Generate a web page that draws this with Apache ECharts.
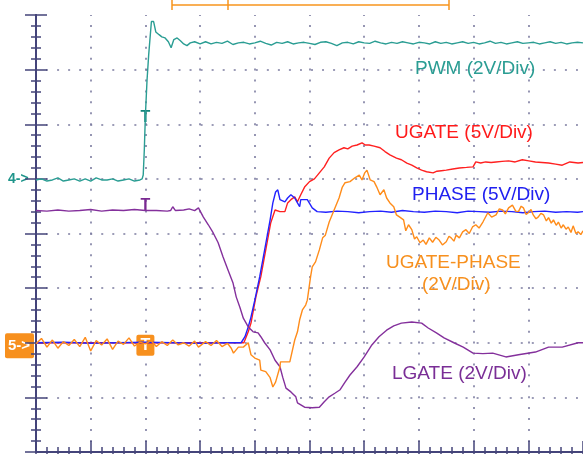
<!DOCTYPE html>
<html>
<head>
<meta charset="utf-8">
<script src="https://cdn.jsdelivr.net/npm/echarts@6/dist/echarts.min.js"></script>
<style>
  html, body { margin: 0; padding: 0; background: #fff; }
  #scope { width: 583px; height: 454px; }
</style>
</head>
<body>
<div id="scope"></div>
<script>
// all traces as [time (div), level (div)]
const pwm = [
  [0,4.98],[0.1,5.00],[0.2,4.96],[0.3,4.98],[0.4,5.02],[0.5,4.96],[0.6,4.98],[0.7,5.00],[0.8,4.96],[0.9,5.00],
  [1.0,4.96],[1.1,5.02],[1.2,4.98],[1.3,4.98],[1.4,5.00],[1.5,4.96],[1.6,4.98],[1.7,5.00],[1.8,4.96],[1.9,4.98],
  [1.94,5.00],[1.96,5.07],[1.98,5.53],[2.0,6.17],[2.03,6.81],[2.06,7.27],[2.09,7.64],[2.11,7.88],[2.15,7.88],
  [2.19,7.69],[2.25,7.64],[2.3,7.60],[2.36,7.58],[2.42,7.51],[2.47,7.40],[2.52,7.55],[2.58,7.58],[2.64,7.53],
  [2.7,7.47],[2.76,7.44],[2.82,7.49],[2.9,7.51],[3.0,7.47],[3.1,7.51],[3.2,7.47],[3.3,7.50],[3.4,7.48],[3.5,7.52],
  [3.6,7.46],[3.7,7.49],[3.8,7.50],[3.9,7.47],[4.0,7.49],[4.1,7.52],[4.2,7.48],[4.3,7.45],[4.4,7.50],[4.5,7.48],
  [4.6,7.51],[4.7,7.47],[4.8,7.49],[4.9,7.50],[5.0,7.48],[5.1,7.46],[5.2,7.50],[5.3,7.51],[5.4,7.48],[5.5,7.44],
  [5.6,7.49],[5.7,7.50],[5.8,7.47],[5.9,7.51],[6.0,7.49],[6.1,7.48],[6.2,7.52],[6.3,7.49],[6.4,7.47],[6.5,7.50],
  [6.6,7.48],[6.7,7.51],[6.8,7.49],[6.9,7.47],[7.0,7.50],[7.1,7.49],[7.2,7.47],[7.3,7.51],[7.4,7.48],[7.5,7.50],
  [7.6,7.47],[7.7,7.49],[7.8,7.51],[7.9,7.48],[8.0,7.50],[8.1,7.47],[8.2,7.49],[8.3,7.52],[8.4,7.48],[8.5,7.50],
  [8.6,7.47],[8.7,7.49],[8.8,7.51],[8.9,7.48],[9.0,7.49],[9.1,7.50],[9.2,7.47],[9.3,7.49],[9.4,7.51],[9.5,7.48],
  [9.6,7.50],[9.7,7.47],[9.8,7.49],[9.9,7.50],[10,7.49]
];

const ugate = [
  [0,2.00],[1,2.00],[2,2.00],[3,2.00],[3.8,2.00],[3.88,2.20],[3.93,2.36],[4.02,2.84],[4.11,3.21],[4.2,3.70],
  [4.29,4.19],[4.37,4.43],[4.46,4.40],[4.55,4.40],[4.6,4.56],[4.66,4.62],[4.73,4.67],[4.78,4.58],[4.84,4.71],
  [4.91,4.85],[5.0,4.95],[5.09,5.00],[5.18,5.11],[5.27,5.22],[5.36,5.38],[5.45,5.48],[5.54,5.53],[5.63,5.57],
  [5.7,5.55],[5.78,5.60],[5.87,5.62],[5.96,5.66],[6.02,5.62],[6.09,5.62],[6.18,5.60],[6.29,5.57],[6.38,5.50],
  [6.47,5.44],[6.59,5.38],[6.68,5.35],[6.78,5.29],[6.87,5.25],[6.96,5.20],[7.05,5.16],[7.14,5.13],[7.26,5.11],
  [7.33,5.14],[7.41,5.15],[7.5,5.16],[7.62,5.18],[7.74,5.20],[7.87,5.21],[7.99,5.22],[8.04,5.31],[8.13,5.29],
  [8.22,5.31],[8.32,5.30],[8.41,5.31],[8.52,5.32],[8.64,5.33],[8.76,5.31],[8.89,5.35],[9.01,5.33],[9.13,5.31],
  [9.25,5.30],[9.37,5.29],[9.5,5.27],[9.62,5.25],[9.76,5.31],[9.91,5.29],[10,5.30]
];

const phase = [
  [0,2.00],[0.5,2.01],[1.0,1.99],[1.5,2.00],[2.0,2.01],[2.5,2.00],[3.0,1.99],[3.5,2.00],[3.75,2.00],[3.82,2.11],
  [3.88,2.29],[3.93,2.47],[4.0,2.78],[4.09,3.21],[4.18,3.70],[4.28,4.25],[4.33,4.56],[4.38,4.76],[4.42,4.80],
  [4.46,4.62],[4.55,4.58],[4.6,4.65],[4.66,4.71],[4.73,4.65],[4.78,4.56],[4.82,4.49],[4.84,4.62],[4.96,4.62],
  [5.05,4.47],[5.14,4.40],[5.3,4.39],[5.5,4.41],[5.7,4.40],[5.9,4.38],[6.1,4.40],[6.3,4.41],[6.5,4.39],
  [6.7,4.42],[6.9,4.40],[7.1,4.39],[7.3,4.41],[7.5,4.40],[7.7,4.38],[7.9,4.41],[8.1,4.40],[8.3,4.39],
  [8.5,4.41],[8.7,4.40],[8.9,4.38],[9.1,4.40],[9.3,4.41],[9.5,4.39],[9.7,4.40],[9.9,4.39],[10,4.40]
];

const ugatePhase = [
  [0,1.98],[0.1,2.08],[0.2,1.92],[0.3,2.05],[0.4,1.90],[0.5,2.02],[0.6,1.95],[0.7,2.06],[0.8,1.93],[0.9,2.10],
  [1.0,1.85],[1.1,2.04],[1.2,1.96],[1.3,2.07],[1.4,1.88],[1.5,2.03],[1.6,1.97],[1.7,2.09],[1.8,1.94],[1.9,2.01],
  [2.0,1.98],[2.1,2.04],[2.2,1.93],[2.3,2.02],[2.4,1.95],[2.5,2.05],[2.6,1.96],[2.7,2.00],[2.8,1.94],[2.9,2.03],
  [2.97,1.92],[3.1,2.02],[3.2,1.95],[3.3,2.04],[3.4,1.93],[3.5,1.99],[3.57,1.90],[3.61,1.81],[3.7,1.92],
  [3.79,1.92],[3.88,2.00],[3.93,1.78],[4.0,1.72],[4.09,1.68],[4.11,1.50],[4.2,1.47],[4.28,1.36],[4.33,1.19],
  [4.38,1.28],[4.46,1.56],[4.47,1.65],[4.64,1.65],[4.66,1.63],[4.73,2.05],[4.78,2.20],[4.82,2.42],[4.87,2.60],
  [4.93,2.69],[4.96,2.78],[5.02,3.21],[5.05,3.39],[5.11,3.48],[5.18,3.70],[5.24,3.92],[5.29,3.97],[5.36,4.21],
  [5.45,4.43],[5.54,4.65],[5.6,4.85],[5.65,4.93],[5.74,4.95],[5.83,5.02],[5.91,5.07],[5.96,4.98],[6.01,5.11],
  [6.05,5.16],[6.11,4.98],[6.18,4.95],[6.23,4.85],[6.29,4.71],[6.36,4.80],[6.41,4.65],[6.47,4.56],[6.54,4.49],
  [6.59,4.34],[6.65,4.30],[6.72,4.25],[6.76,4.05],[6.81,4.16],[6.87,4.07],[6.92,3.90],[6.96,3.94],[7.02,3.83],
  [7.08,3.88],[7.13,3.80],[7.19,3.92],[7.25,3.84],[7.31,3.93],[7.37,3.88],[7.43,3.79],[7.5,3.85],[7.55,3.95],
  [7.59,3.92],[7.64,3.86],[7.68,3.97],[7.74,3.92],[7.8,4.03],[7.86,4.07],[7.92,4.00],[7.98,4.12],[8.04,4.16],
  [8.1,4.10],[8.17,4.21],[8.26,4.38],[8.33,4.30],[8.41,4.34],[8.47,4.45],[8.53,4.43],[8.58,4.36],[8.64,4.47],
  [8.71,4.52],[8.77,4.41],[8.82,4.40],[8.87,4.50],[8.91,4.47],[8.96,4.35],[9.0,4.38],[9.05,4.44],[9.09,4.34],
  [9.14,4.27],[9.18,4.30],[9.23,4.37],[9.28,4.34],[9.33,4.23],[9.37,4.29],[9.42,4.19],[9.46,4.25],[9.51,4.15],
  [9.55,4.21],[9.6,4.10],[9.64,4.16],[9.69,4.08],[9.73,4.12],[9.78,4.02],[9.82,4.14],[9.87,4.00],[9.91,4.03],
  [9.96,3.98],[10,4.05]
];

const lgate = [
  [0,4.42],[0.2,4.41],[0.4,4.43],[0.6,4.41],[0.8,4.42],[1.0,4.44],[1.2,4.41],[1.4,4.43],[1.6,4.42],[1.8,4.44],
  [2.0,4.42],[2.2,4.42],[2.4,4.41],[2.46,4.42],[2.5,4.49],[2.55,4.42],[2.7,4.43],[2.8,4.45],[2.9,4.42],
  [2.97,4.47],[3.06,4.30],[3.15,4.16],[3.24,4.01],[3.33,3.83],[3.42,3.57],[3.51,3.33],[3.6,3.10],[3.66,2.84],
  [3.73,2.64],[3.79,2.45],[3.88,2.29],[3.97,2.20],[4.06,2.18],[4.11,2.11],[4.18,2.00],[4.28,1.87],[4.37,1.68],
  [4.46,1.56],[4.51,1.37],[4.57,1.17],[4.66,1.10],[4.75,1.01],[4.78,0.90],[4.91,0.82],[5.05,0.81],[5.18,0.82],
  [5.27,0.92],[5.36,1.01],[5.47,1.08],[5.56,1.14],[5.65,1.28],[5.74,1.41],[5.87,1.56],[6.0,1.74],[6.14,1.96],
  [6.27,2.11],[6.41,2.23],[6.54,2.31],[6.68,2.36],[6.87,2.38],[7.05,2.36],[7.17,2.27],[7.32,2.18],[7.46,2.09],
  [7.64,2.00],[7.81,1.92],[7.99,1.81],[8.17,1.80],[8.35,1.81],[8.59,1.74],[8.82,1.78],[9.13,1.83],[9.37,1.92],
  [9.62,1.92],[9.91,2.00],[10,2.00]
];

// channel ground markers and trigger point
const ch4Level = 5.0;
const ch5Level = 2.0;
const trigTime = 2.0;

const frameColor = '#44447a';
const dotColor = '#7c7ca0';

const chart = echarts.init(document.getElementById('scope'));

// one axis per side for the big ticks, one more per side for the small ones (5 per div)
const tickAxis = (pos, max, step, len, extra) => Object.assign({
  type: 'value',
  position: pos,
  min: 0,
  max: max,
  interval: step,
  axisLine: { show: step === 1, lineStyle: { color: frameColor, width: 2 } },
  axisTick: { show: true, inside: true, length: len, lineStyle: { color: frameColor, width: 1.5 } },
  axisLabel: { show: false },
  splitLine: { show: false }
}, extra);

const line = (name, data, color) => ({
  name: name,
  type: 'line',
  data: data,
  showSymbol: false,
  xAxisIndex: 0,
  yAxisIndex: 0,
  lineStyle: { color: color, width: 1.4 },
  animation: false
});

const labelFont = 'Liberation Sans, Arial, sans-serif';
const txt = (s, x, y, color) => ({
  type: 'text', x: x, y: y,
  style: { text: s, fill: color, font: '19px ' + labelFont, verticalAlign: 'middle' }
});

chart.setOption({
  animation: false,
  grid: { left: 36, top: 15, width: 552, height: 437 },
  xAxis: [
    tickAxis('bottom', 10, 1, 11, {
      splitLine: { show: true, showMinLine: false, showMaxLine: false,
        lineStyle: { color: dotColor, width: 1.6, type: [2, 8.92], dashOffset: 1 } } }),
    tickAxis('top', 10, 1, 11),
    tickAxis('bottom', 10, 0.2, 5),
    tickAxis('top', 10, 0.2, 5)
  ],
  yAxis: [
    tickAxis('left', 8, 1, 11, {
      splitLine: { show: true, showMinLine: false, showMaxLine: false,
        lineStyle: { color: dotColor, width: 1.6, type: [2, 9.04], dashOffset: 1 } } }),
    tickAxis('right', 8, 1, 11),
    tickAxis('left', 8, 0.2, 5),
    tickAxis('right', 8, 0.2, 5)
  ],
  series: [
    line('UGATE', ugate, '#ff2020'),
    line('PHASE', phase, '#2222ff'),
    line('LGATE', lgate, '#84309c'),
    line('UGATE-PHASE', ugatePhase, '#ff8c1a'),
    line('PWM', pwm, '#2a9d93')
  ]
});

// overlay: channel markers, trigger marks, trace captions, time window bracket
const px = (t, v) => chart.convertToPixel({ xAxisIndex: 0, yAxisIndex: 0 }, [t, v]);
const p4 = px(0, ch4Level);
const p5 = px(0, ch5Level);
const tPwm = px(trigTime, 6.12);
const tLg = px(trigTime, 4.52);
const tUp = px(trigTime, ch5Level);

chart.setOption({
  graphic: [
    // ch4 ground marker
    { type: 'text', x: 8, y: p4[1], style: { text: '4->', fill: '#1f958b', font: 'bold 14px ' + labelFont, verticalAlign: 'middle' } },
    // ch5 ground marker
    { type: 'rect', shape: { x: 5, y: p5[1] - 9.5, width: 29, height: 25, r: 2 }, style: { fill: '#f7901e' } },
    { type: 'text', x: 8, y: p5[1] + 3, style: { text: '5->', fill: '#fff', font: 'bold 15px ' + labelFont, verticalAlign: 'middle' } },
    // trigger marks
    { type: 'text', x: tPwm[0], y: tPwm[1], style: { text: 'T', fill: '#13857c', font: 'bold 16px ' + labelFont, align: 'center', verticalAlign: 'middle' } },
    { type: 'text', x: tLg[0], y: tLg[1], style: { text: 'T', fill: '#7a2a92', font: 'bold 16px ' + labelFont, align: 'center', verticalAlign: 'middle' } },
    { type: 'rect', shape: { x: tUp[0] - 9, y: tUp[1] - 8, width: 18, height: 21, r: 2 }, style: { fill: '#f7901e' } },
    { type: 'text', x: tUp[0], y: tUp[1] + 3, style: { text: 'T', fill: '#fff', font: 'bold 16px ' + labelFont, align: 'center', verticalAlign: 'middle' } },
    // captions
    txt('PWM (2V/Div)', 415, 69, '#2a9d93'),
    txt('UGATE (5V/Div)', 395, 133, '#ff1a1a'),
    txt('PHASE (5V/Div)', 412, 195, '#2020f0'),
    txt('UGATE-PHASE', 386, 263, '#f7901e'),
    txt('(2V/Div)', 422, 285, '#f7901e'),
    txt('LGATE (2V/Div)', 392, 374, '#7a2e96'),
    // acquisition window bracket above the screen
    { type: 'polyline', shape: { points: [[172, 0], [172, 10]] }, style: { stroke: '#f7941d', lineWidth: 1.5 } },
    { type: 'polyline', shape: { points: [[172, 5], [449, 5]] }, style: { stroke: '#f7941d', lineWidth: 1.5 } },
    { type: 'polyline', shape: { points: [[449, 0], [449, 10]] }, style: { stroke: '#f7941d', lineWidth: 1.5 } },
    { type: 'polyline', shape: { points: [[228, 0], [228, 10]] }, style: { stroke: '#f7941d', lineWidth: 1.5 } }
  ]
});
</script>
</body>
</html>
